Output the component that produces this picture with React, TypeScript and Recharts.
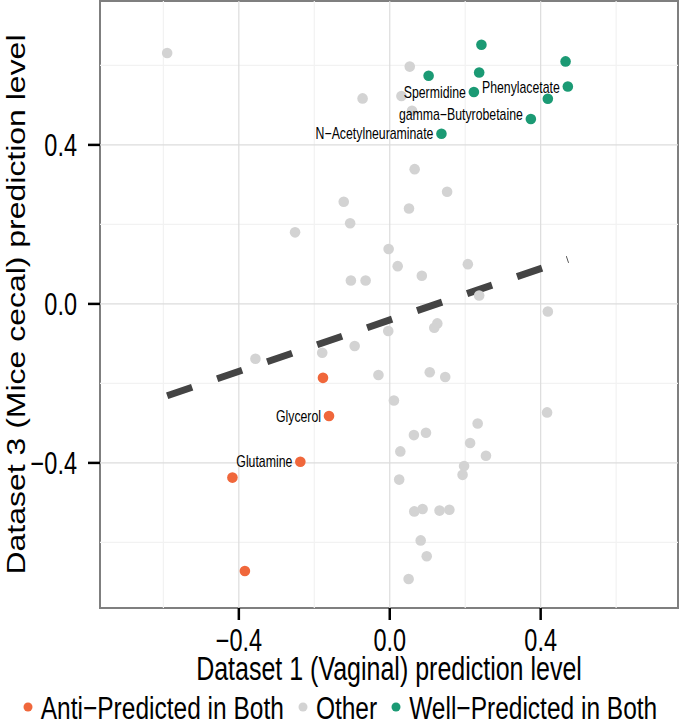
import React from 'react';
import {
  ScatterChart,
  Scatter,
  XAxis,
  YAxis,
  ReferenceLine,
  ReferenceArea,
  Legend,
  LabelList,
} from 'recharts';

// ---------- data ----------
const antiPredicted = [
  { x: -0.177, y: -0.186, name: '' },
  { x: -0.161, y: -0.282, name: 'Glycerol' },
  { x: -0.237, y: -0.397, name: 'Glutamine' },
  { x: -0.417, y: -0.437, name: '' },
  { x: -0.384, y: -0.672, name: '' },
];

const other = [
  { x: -0.59, y: 0.631 },
  { x: -0.072, y: 0.517 },
  { x: 0.053, y: 0.597 },
  { x: 0.031, y: 0.523 },
  { x: 0.059, y: 0.486 },
  { x: 0.066, y: 0.339 },
  { x: 0.152, y: 0.282 },
  { x: -0.122, y: 0.257 },
  { x: -0.105, y: 0.203 },
  { x: -0.251, y: 0.18 },
  { x: 0.051, y: 0.24 },
  { x: -0.003, y: 0.138 },
  { x: 0.021, y: 0.095 },
  { x: 0.207, y: 0.1 },
  { x: 0.085, y: 0.071 },
  { x: -0.103, y: 0.059 },
  { x: -0.064, y: 0.059 },
  { x: 0.237, y: 0.021 },
  { x: 0.419, y: -0.019 },
  { x: 0.126, y: -0.049 },
  { x: 0.118, y: -0.06 },
  { x: -0.004, y: -0.068 },
  { x: -0.093, y: -0.106 },
  { x: -0.179, y: -0.123 },
  { x: -0.356, y: -0.138 },
  { x: -0.03, y: -0.179 },
  { x: 0.106, y: -0.172 },
  { x: 0.147, y: -0.184 },
  { x: 0.011, y: -0.243 },
  { x: 0.417, y: -0.273 },
  { x: 0.233, y: -0.301 },
  { x: 0.064, y: -0.33 },
  { x: 0.096, y: -0.324 },
  { x: 0.213, y: -0.35 },
  { x: 0.028, y: -0.371 },
  { x: 0.255, y: -0.382 },
  { x: 0.197, y: -0.408 },
  { x: 0.193, y: -0.43 },
  { x: 0.025, y: -0.442 },
  { x: 0.065, y: -0.522 },
  { x: 0.087, y: -0.516 },
  { x: 0.132, y: -0.52 },
  { x: 0.158, y: -0.518 },
  { x: 0.082, y: -0.595 },
  { x: 0.098, y: -0.635 },
  { x: 0.05, y: -0.692 },
];

const wellPredicted = [
  { x: 0.243, y: 0.652, name: '' },
  { x: 0.466, y: 0.61, name: '' },
  { x: 0.103, y: 0.574, name: '' },
  { x: 0.237, y: 0.582, name: '' },
  { x: 0.472, y: 0.547, name: 'Phenylacetate' },
  { x: 0.223, y: 0.533, name: 'Spermidine' },
  { x: 0.419, y: 0.516, name: '' },
  { x: 0.374, y: 0.465, name: 'gamma\u2212Butyrobetaine' },
  { x: 0.137, y: 0.428, name: 'N\u2212Acetylneuraminate' },
];

// fitted trend (lm) endpoints over the data's x range
const trendLine = [
  { x: -0.59, y: -0.231 },
  { x: 0.472, y: 0.112 },
];

const majorTicks = [-0.4, 0, 0.4];
const minorTicks = [-0.6, -0.2, 0.2, 0.6];
const xDomain = [-0.768, 0.764];
const yDomain = [-0.765, 0.762];

const xTitle = 'Dataset 1 (Vaginal) prediction level';
const yTitle = 'Dataset 3 (Mice cecal) prediction level';

const legendItems = [
  { label: 'Anti\u2212Predicted in Both', color: '#F0673B' },
  { label: 'Other', color: '#D3D3D3' },
  { label: 'Well\u2212Predicted in Both', color: '#1B9A74' },
];

// ---------- styling ----------
const FONT = "'Liberation Sans', Arial, Helvetica, sans-serif";
const COLORS = { anti: '#F0673B', other: '#D3D3D3', well: '#1B9A74' };
const DOT_R = 5.3;
const VS = 1.3; // vertical stretch of the original figure's text

const fmt = (v: number) =>
  v < 0 ? '\u2212' + Math.abs(v).toFixed(1) : v.toFixed(1);

const makeDot = (color: string) => (props: any) => {
  const { cx, cy } = props;
  if (cx == null || cy == null) return <g />;
  return <circle cx={cx} cy={cy} r={DOT_R} fill={color} stroke="none" />;
};

const labelDy: Record<string, number> = {
  'gamma\u2212Butyrobetaine': -5,
  Phenylacetate: 1,
};

const PointLabel = (props: any) => {
  const { x, y, width, height, value } = props;
  if (!value) return null;
  const cx = x + (width || 0) / 2 - 8;
  const cy = y + (height || 0) / 2 + (labelDy[value] || 0);
  return (
    <text
      transform={`translate(${cx} ${cy}) scale(1 ${VS})`}
      dy="0.355em"
      textAnchor="end"
      fontSize={12.3}
      fontFamily={FONT}
      fill="#000"
    >
      {value}
    </text>
  );
};

const XTick = (props: any) => {
  const { x, y, payload } = props;
  return (
    <text
      transform={`translate(${x} ${y}) scale(1 ${VS})`}
      dy="0.71em"
      textAnchor="middle"
      fontSize={23.5}
      fontFamily={FONT}
      fill="#000"
    >
      {fmt(payload.value)}
    </text>
  );
};

const YTick = (props: any) => {
  const { x, y, payload } = props;
  return (
    <text
      transform={`translate(${x} ${y}) scale(1 ${VS})`}
      dy="0.355em"
      textAnchor="end"
      fontSize={23.5}
      fontFamily={FONT}
      fill="#000"
    >
      {fmt(payload.value)}
    </text>
  );
};

const XTitle = (props: any) => {
  const vb = props.viewBox || { x: 100, y: 608, width: 578, height: 86 };
  const cx = vb.x + vb.width / 2;
  const cy = vb.y + 72;
  return (
    <text
      transform={`translate(${cx} ${cy}) scale(1 ${VS})`}
      textAnchor="middle"
      fontSize={25}
      fontFamily={FONT}
      fill="#000"
    >
      {xTitle}
    </text>
  );
};

const YTitle = (props: any) => {
  const vb = props.viewBox || { x: 10, y: 1, width: 90, height: 607 };
  const cx = vb.x + 15;
  const cy = vb.y + vb.height / 2;
  return (
    <text
      x={cx}
      y={cy}
      transform={`rotate(-90 ${cx} ${cy})`}
      textAnchor="middle"
      fontSize={26}
      fontFamily={FONT}
      textLength={540}
      lengthAdjust="spacingAndGlyphs"
      fill="#000"
    >
      {yTitle}
    </text>
  );
};

const LegendContent = () => (
  <div
    style={{
      display: 'flex',
      justifyContent: 'center',
      alignItems: 'center',
      height: 26,
      fontFamily: FONT,
      fontSize: 24.5,
      lineHeight: '19px',
      whiteSpace: 'nowrap',
      marginLeft: -10,
    }}
  >
    {legendItems.map((it, i) => (
      <div
        key={i}
        style={{
          display: 'flex',
          alignItems: 'center',
          marginRight: i < legendItems.length - 1 ? 12 : 0,
        }}
      >
        <svg width={14} height={14} style={{ marginRight: 6 }}>
          <circle cx={7} cy={7} r={4.5} fill={it.color} />
        </svg>
        <span
          style={{
            color: '#000',
            display: 'inline-block',
            lineHeight: '19px',
            transform: `scaleY(${VS})`,
          }}
        >
          {it.label}
        </span>
      </div>
    ))}
  </div>
);

export default function App() {
  return (
    <div style={{ position: 'absolute', left: 0, top: 0, width: 680, height: 722, background: '#fff' }}>
      <ScatterChart
        width={680}
        height={722}
        margin={{ top: 1, right: 2, left: 10, bottom: 2 }}
      >
        <XAxis
          type="number"
          dataKey="x"
          domain={xDomain}
          allowDataOverflow
          ticks={majorTicks}
          tick={<XTick />}
          tickSize={12}
          tickMargin={9}
          tickLine={{ stroke: '#000', strokeWidth: 2.5 }}
          axisLine={false}
          height={86}
          label={<XTitle />}
        />
        <YAxis
          type="number"
          dataKey="y"
          domain={yDomain}
          allowDataOverflow
          ticks={majorTicks}
          tick={<YTick />}
          tickSize={12}
          tickMargin={11}
          tickLine={{ stroke: '#000', strokeWidth: 2.5 }}
          axisLine={false}
          width={90}
          label={<YTitle />}
        />
        {minorTicks.map((v) => (
          <ReferenceLine key={'mx' + v} x={v} stroke="#F2F2F2" strokeWidth={1.2} />
        ))}
        {minorTicks.map((v) => (
          <ReferenceLine key={'my' + v} y={v} stroke="#F2F2F2" strokeWidth={1.2} />
        ))}
        {majorTicks.map((v) => (
          <ReferenceLine key={'Mx' + v} x={v} stroke="#DCDCDC" strokeWidth={1.2} />
        ))}
        {majorTicks.map((v) => (
          <ReferenceLine key={'My' + v} y={v} stroke="#DCDCDC" strokeWidth={1.2} />
        ))}
        <Scatter
          name="Other"
          data={other}
          fill={COLORS.other}
          shape={makeDot(COLORS.other)}
          isAnimationActive={false}
        />
        <Scatter
          name="Anti-Predicted in Both"
          data={antiPredicted}
          fill={COLORS.anti}
          shape={makeDot(COLORS.anti)}
          isAnimationActive={false}
        >
          <LabelList dataKey="name" content={<PointLabel />} />
        </Scatter>
        <Scatter
          name="Well-Predicted in Both"
          data={wellPredicted}
          fill={COLORS.well}
          shape={makeDot(COLORS.well)}
          isAnimationActive={false}
        >
          <LabelList dataKey="name" content={<PointLabel />} />
        </Scatter>
        <ReferenceLine
          segment={trendLine}
          stroke="#444444"
          strokeWidth={7}
          strokeDasharray="26.4 26.4"
        />
        <ReferenceArea
          x1={xDomain[0]}
          x2={xDomain[1]}
          y1={yDomain[0]}
          y2={yDomain[1]}
          fill="none"
          fillOpacity={0}
          stroke="#7F7F7F"
          strokeWidth={2}
        />
        <Legend
          verticalAlign="bottom"
          align="center"
          height={26}
          wrapperStyle={{ height: 26 }}
          content={<LegendContent />}
        />
      </ScatterChart>
    </div>
  );
}
